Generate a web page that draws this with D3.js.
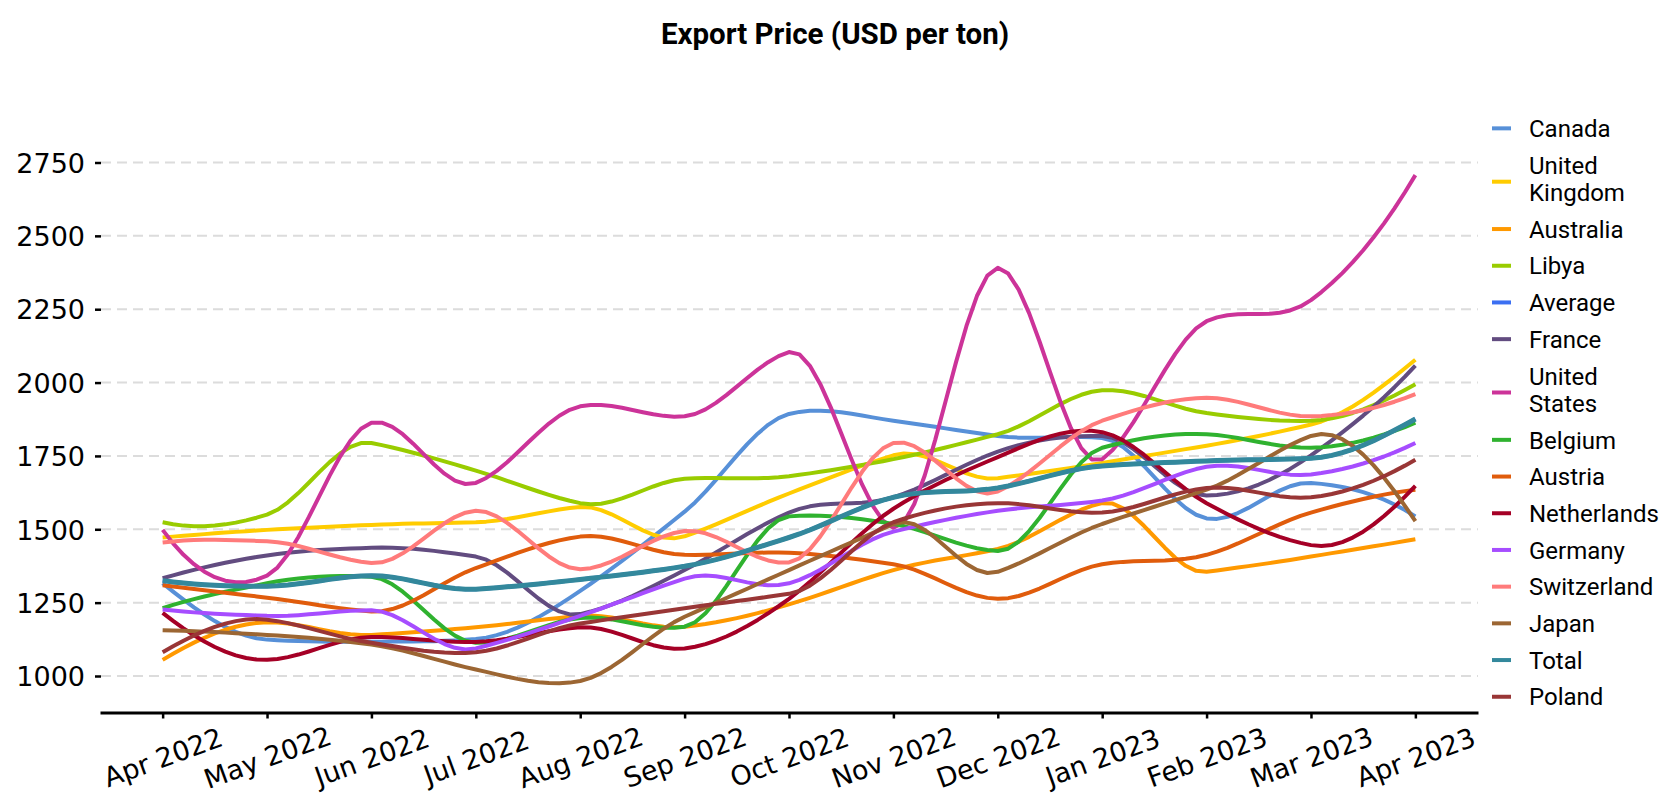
<!DOCTYPE html>
<html>
<head>
<meta charset="utf-8">
<script src="https://cdn.jsdelivr.net/npm/d3@7"></script>
<style>
  html, body { margin: 0; padding: 0; background: #ffffff; }
  svg { display: block; }
</style>
</head>
<body>
<svg id="chart" width="1680" height="800"></svg>
<script>
// ---------------- DATA ----------------
const months = ["Apr 2022", "May 2022", "Jun 2022", "Jul 2022", "Aug 2022", "Sep 2022",
  "Oct 2022", "Nov 2022", "Dec 2022", "Jan 2023", "Feb 2023", "Mar 2023", "Apr 2023"];

const yTicks = [1000, 1250, 1500, 1750, 2000, 2250, 2500, 2750];

const seriesNames = ["Canada", "United Kingdom", "Australia", "Libya", "Average", "France",
  "United States", "Belgium", "Austria", "Netherlands", "Germany", "Switzerland",
  "Japan", "Total", "Poland"];

const legendLabels = [["Canada"], ["United", "Kingdom"], ["Australia"], ["Libya"], ["Average"],
  ["France"], ["United", "States"], ["Belgium"], ["Austria"], ["Netherlands"], ["Germany"],
  ["Switzerland"], ["Japan"], ["Total"], ["Poland"]];

const seriesColors = ["#5790d8", "#ffcc00", "#ff9900", "#99cc00", "#3b6ff2", "#624c80",
  "#cc3399", "#2fb22f", "#e05c0c", "#a50026", "#a64dff", "#ff7b7b",
  "#9c6633", "#33889c", "#993636"];

const canada        = [1316, 1124, 1117, 1126, 1290, 1560, 1893, 1870, 1818, 1811, 1537, 1658, 1544];
const unitedKingdom = [1472, 1498, 1515, 1524, 1576, 1476, 1622, 1752, 1674, 1726, 1785, 1857, 2078];
const australia     = [1055, 1183, 1140, 1166, 1205, 1168, 1244, 1361, 1433, 1589, 1355, 1407, 1466];
const libya         = [1524, 1550, 1794, 1700, 1589, 1672, 1681, 1739, 1824, 1974, 1896, 1870, 1994];
const average       = [1325, 1306, 1342, 1296, 1329, 1374, 1472, 1609, 1641, 1716, 1733, 1742, 1876];
const france        = [1333, 1411, 1437, 1407, 1211, 1361, 1557, 1609, 1765, 1818, 1615, 1752, 2058];
const unitedStates  = [1498, 1342, 1863, 1658, 1919, 1885, 2104, 1505, 2391, 1739, 2209, 2281, 2707];
const belgium       = [1231, 1316, 1338, 1113, 1198, 1168, 1544, 1518, 1426, 1778, 1824, 1778, 1863];
const austria       = [1309, 1267, 1220, 1368, 1475, 1413, 1420, 1381, 1263, 1381, 1413, 1557, 1635];
const netherlands   = [1215, 1055, 1133, 1116, 1166, 1094, 1263, 1570, 1746, 1831, 1589, 1446, 1648];
const germany       = [1227, 1205, 1224, 1094, 1205, 1332, 1316, 1492, 1563, 1598, 1713, 1687, 1794];
const switzerland   = [1455, 1459, 1385, 1563, 1364, 1494, 1387, 1794, 1629, 1870, 1948, 1885, 1961];
const japan         = [1156, 1140, 1107, 1022,  983, 1202, 1361, 1518, 1355, 1518, 1635, 1818, 1528];
const total         = [1325, 1306, 1342, 1296, 1329, 1374, 1472, 1609, 1641, 1716, 1733, 1742, 1876];
const poland        = [1081, 1192, 1113, 1081, 1179, 1231, 1280, 1524, 1589, 1557, 1641, 1609, 1737];

const seriesValues = [canada, unitedKingdom, australia, libya, average, france, unitedStates,
  belgium, austria, netherlands, germany, switzerland, japan, total, poland];

// ---------------- Akima interpolation (drawing helper) ----------------
function akimaSample(ys, perSeg) {
  const n = ys.length;
  const M = new Array(n + 3);
  for (let k = 0; k < n - 1; k++) M[k + 2] = ys[k + 1] - ys[k];
  M[1] = 2 * M[2] - M[3];
  M[0] = 2 * M[1] - M[2];
  M[n + 1] = 2 * M[n] - M[n - 1];
  M[n + 2] = 2 * M[n + 1] - M[n];
  const t = [];
  for (let i = 0; i < n; i++) {
    const f1 = Math.abs(M[i + 3] - M[i + 2]);
    const f2 = Math.abs(M[i + 1] - M[i]);
    if (f1 + f2 > 1e-9) t.push((f1 * M[i + 1] + f2 * M[i + 2]) / (f1 + f2));
    else t.push(0.5 * (M[i + 1] + M[i + 2]));
  }
  const pts = [];
  for (let i = 0; i < n - 1; i++) {
    for (let j = 0; j < perSeg; j++) {
      const s = j / perSeg, s2 = s * s, s3 = s2 * s;
      const v = (2 * s3 - 3 * s2 + 1) * ys[i] + (s3 - 2 * s2 + s) * t[i] +
                (-2 * s3 + 3 * s2) * ys[i + 1] + (s3 - s2) * t[i + 1];
      pts.push([i + s, v]);
    }
  }
  pts.push([n - 1, ys[n - 1]]);
  return pts;
}

// ---------------- CHART ----------------
const svg = d3.select("#chart");

const x = d3.scalePoint().domain(months).range([100, 1478]).padding(0.6);
const xi = d3.scaleLinear().domain([0, months.length - 1])
  .range([x(months[0]), x(months[months.length - 1])]);
const y = d3.scaleLinear().domain([1000, 2750]).range([676, 162.5]);

// title
svg.append("text")
  .attr("x", 835).attr("y", 44)
  .attr("text-anchor", "middle")
  .style("font-family", "Roboto, sans-serif")
  .style("font-weight", "bold")
  .style("font-size", "29.5px")
  .text("Export Price (USD per ton)");

// gridlines
svg.append("g").selectAll("line")
  .data(yTicks)
  .join("line")
  .attr("x1", 101).attr("x2", 1478)
  .attr("y1", d => y(d)).attr("y2", d => y(d))
  .attr("stroke", "#dcdcdc")
  .attr("stroke-width", 2)
  .attr("stroke-dasharray", "10,6");

// y axis
const yAxis = svg.append("g")
  .attr("transform", "translate(101,0)")
  .call(d3.axisLeft(y).tickValues(yTicks).tickSize(6).tickPadding(10).tickFormat(d3.format("d")));
yAxis.select(".domain").remove();
yAxis.selectAll(".tick line").attr("stroke", "#000").attr("stroke-width", 2.5);
yAxis.selectAll(".tick text")
  .attr("fill", "#000")
  .attr("dy", "0.36em")
  .style("font-family", "'DejaVu Sans', sans-serif")
  .style("font-size", "27px");

// x axis
const xAxis = svg.append("g")
  .attr("transform", "translate(0,712.5)")
  .call(d3.axisBottom(x).tickSize(6).tickSizeOuter(0));
xAxis.select(".domain").attr("stroke", "#000").attr("stroke-width", 3);
xAxis.selectAll(".tick line").attr("stroke", "#000").attr("stroke-width", 2.5);
xAxis.selectAll(".tick text")
  .attr("fill", "#000")
  .attr("y", 0)
  .attr("dy", "0.35em")
  .attr("text-anchor", "middle")
  .attr("transform", "translate(0,45) rotate(-20)")
  .style("font-family", "'DejaVu Sans', sans-serif")
  .style("font-size", "27px");

// lines
const line = d3.line()
  .x(d => xi(d[0]))
  .y(d => y(d[1]))
  .curve(d3.curveLinear);

svg.append("g").selectAll("path")
  .data(seriesValues)
  .join("path")
  .attr("d", d => line(akimaSample(d, 10)))
  .attr("fill", "none")
  .attr("stroke", (d, i) => seriesColors[i])
  .attr("stroke-width", (d, i) => seriesNames[i] === "Total" ? 5 : 4)
  .attr("stroke-linejoin", "round");

// legend
const legend = svg.append("g");
let cursor = 110;
legendLabels.forEach((lines, i) => {
  const h = 36.7 + (lines.length - 1) * 27.3;
  const cy = cursor + h / 2;
  const swY = lines.length > 1 ? cy + 3 : cy;
  legend.append("line")
    .attr("x1", 1492).attr("x2", 1511)
    .attr("y1", swY).attr("y2", swY)
    .attr("stroke", seriesColors[i])
    .attr("stroke-width", 4);
  const t = legend.append("text")
    .attr("x", 1529)
    .style("font-family", "Roboto, sans-serif")
    .style("font-size", "24px")
    .attr("fill", "#000");
  const firstBase = cy - (lines.length - 1) * 27.3 / 2 + 8.7;
  lines.forEach((ln, k) => {
    t.append("tspan").attr("x", 1529).attr("y", firstBase + k * 27.3).text(ln);
  });
  cursor += h;
});
</script>
</body>
</html>
